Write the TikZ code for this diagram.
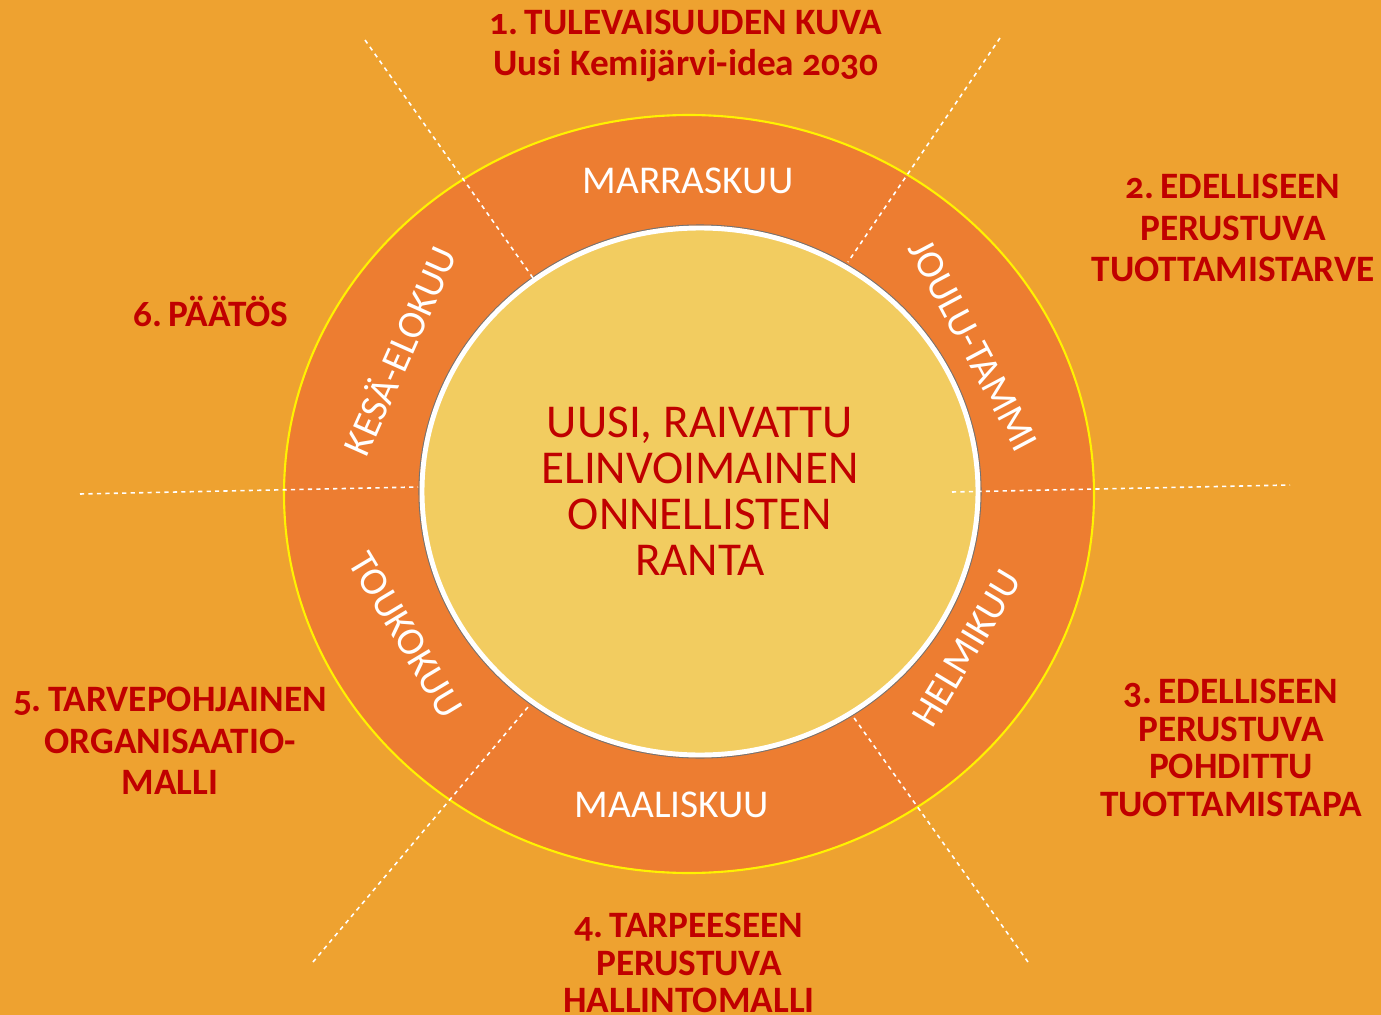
\documentclass[tikz,border=0pt]{standalone}
\usepackage{fontspec}
\setmainfont{Carlito}[Numbers=OldStyle]
\definecolor{bgorange}{HTML}{EEA230}
\definecolor{ringorange}{HTML}{ED7D31}
\definecolor{coreyellow}{HTML}{F2CC60}
\definecolor{darkred}{HTML}{C00000}
\tikzset{
  phase/.style={text=darkred,font=\bfseries\fontsize{10.6}{11.8}\selectfont,align=center,inner sep=0pt},
  month/.style={text=white,font=\fontsize{11.2}{12}\selectfont,inner sep=0pt},
  sep/.style={white,line width=0.45pt,dash pattern=on 1.2pt off 1.2pt}
}
\begin{document}
\begin{tikzpicture}[x=0.01cm,y=-0.01cm]
%background
\fill[bgorange](0,0)rectangle(1381,1015);
\useasboundingbox(0,0)rectangle(1381,1015);
%ring
\draw[yellow,line width=0.6pt,fill=ringorange](689,494)ellipse[x radius=405,y radius=379];
\draw[black!55,line width=0.3pt](700,491.5)ellipse[x radius=281,y radius=266.5];
\draw[white,line width=1.4pt,fill=coreyellow](700,491.5)ellipse[x radius=278,y radius=263.5];
%dividers
\foreach \x/\y/\u/\v in {365/40/533/278,1000/38/848/262,80/494/418/487,952/492/1290/485,313/962/528/707,1028/962/852/715}
  {\draw[sep](\x,\y)--(\u,\v);}
%months
\foreach \x/\y/\r/\t [count=\i] in {688/181/0/MARRASKUU,973/345/-62/JOULU-TAMMI,967/648/59/HELMIKUU,672/805/0/MAALISKUU,406/635/-59/TOUKOKUU,398/350/66/KESÄ-ELOKUU}
  {\node[month,rotate=\r](m\i)at(\x,\y){\t};}
%centre
\node[text=darkred,font=\fontsize{13.4}{13.1}\selectfont,align=center](core)at(700,491){UUSI, RAIVATTU\\ELINVOIMAINEN\\ONNELLISTEN\\RANTA};
%phases
\node[phase](p1)at(686,46){1.\,TULEVAISUUDEN KUVA\\Uusi Kemijärvi-idea 2030};
\node[phase](p2)at(1233,228){2.\,EDELLISEEN\\PERUSTUVA\\TUOTTAMISTARVE};
\node[phase,font=\bfseries\fontsize{10.6}{10.7}\selectfont](p3)at(1231,748){3.\,EDELLISEEN\\PERUSTUVA\\POHDITTU\\TUOTTAMISTAPA};
\node[phase,font=\bfseries\fontsize{10.6}{10.6}\selectfont](p4)at(689,963){4.\,TARPEESEEN\\PERUSTUVA\\HALLINTOMALLI};
\node[phase](p5)at(170,741){5.\,TARVEPOHJAINEN\\ORGANISAATIO-\\MALLI};
\node[phase](p6)at(211,311){6.\,PÄÄTÖS};
\end{tikzpicture}
\end{document}
